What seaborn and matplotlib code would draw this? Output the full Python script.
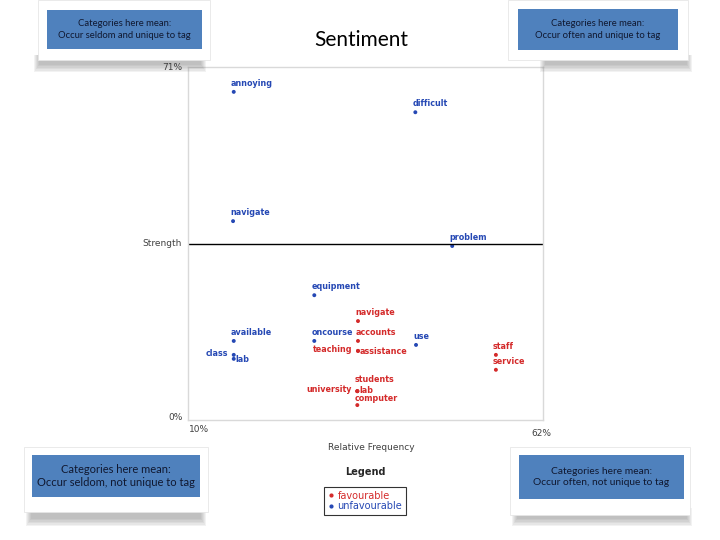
import pandas as pd
import matplotlib
matplotlib.use("Agg")
import matplotlib.pyplot as plt
import seaborn as sns
from matplotlib.patches import Rectangle
from matplotlib.lines import Line2D

# dados (frequência relativa %, força %)
palavras = ["annoying", "navigate", "difficult", "problem", "equipment", "available",
            "oncourse", "class", "lab", "use",
            "navigate", "accounts", "teaching", "assistance", "staff", "service",
            "university", "students", "lab", "computer"]
frequencia = [16.7, 16.6, 43.3, 48.7, 28.5, 16.7, 28.5, 16.7, 16.7, 43.4,
              34.9, 34.9, 34.9, 34.9, 55.1, 55.1, 34.8, 34.8, 34.8, 34.8]
forca = [66.0, 40.0, 61.9, 35.0, 25.1, 15.9, 15.9, 13.1, 12.3, 15.1,
         19.9, 15.9, 13.9, 13.9, 13.1, 10.1, 5.8, 5.8, 5.8, 3.0]
sentimento = ["unfavourable"] * 10 + ["favourable"] * 10

# posição do rótulo (padrão: acima do ponto)
pos_rotulo = {7: "left", 8: "right", 12: "left", 13: "right", 16: "left",
              17: "high", 18: "right_up", 19: "low"}

cores = {"favourable": "#D42A2A", "unfavourable": "#2548B4"}

df = pd.DataFrame({"palavra": palavras, "freq": frequencia,
                   "forca": forca, "sent": sentimento})

sns.set_style("white")
plt.rcParams["font.family"] = ["DejaVu Sans"]

fig = plt.figure(figsize=(7.2, 5.4), dpi=100)
W, H = 720, 540


def fx(px):
    return px / W


def fy(py):
    return 1 - py / H


ax = fig.add_axes([fx(188), fy(420), fx(543) - fx(188), fy(67) - fy(420)])
sns.scatterplot(data=df, x="freq", y="forca", hue="sent", palette=cores,
                s=8, edgecolor="none", legend=False, ax=ax)
ax.set_xlim(10, 62)
ax.set_ylim(0, 71)
ax.set_xticks([])
ax.set_yticks([])
ax.set_xlabel("")
ax.set_ylabel("")
for s in ax.spines.values():
    s.set_color("#D9D9D9")
    s.set_linewidth(1)
ax.axhline(35.5, color="black", lw=1)

offsets = {"above": ((-2, 3), "left", "bottom"),
           "high": ((-2, 5), "left", "bottom"),
           "low": ((-2, 1.5), "left", "bottom"),
           "left": ((-4, 1), "right", "center"),
           "right": ((1.5, -0.5), "left", "center"),
           "right_up": ((1.5, 0.5), "left", "center")}
for i, row in df.iterrows():
    off, ha, va = offsets[pos_rotulo.get(i, "above")]
    ax.annotate(row["palavra"], (row["freq"], row["forca"]), xytext=off,
                textcoords="offset points", ha=ha, va=va,
                fontsize=5.8, fontweight="bold", color=cores[row["sent"]])

# textos dos eixos
cinza = "#404040"
fig.text(fx(172), fy(67), "71%", fontsize=6.5, color=cinza, ha="center", va="center")
fig.text(fx(176), fy(417), "0%", fontsize=6.5, color=cinza, ha="center", va="center")
fig.text(fx(199), fy(429), "10%", fontsize=6.5, color=cinza, ha="center", va="center")
fig.text(fx(541), fy(433), "62%", fontsize=6.5, color=cinza, ha="center", va="center")
fig.text(fx(162), fy(244), "Strength", fontsize=6.5, color=cinza, ha="center", va="center")
fig.text(fx(371), fy(448), "Relative Frequency", fontsize=6.5, color=cinza,
         ha="center", va="center")
fig.text(fx(361), fy(40), "Sentiment", fontsize=15, color="black", ha="center",
         va="center", family="Lato")

# legenda
fig.text(fx(365), fy(472), "Legend", fontsize=7, fontweight="bold", ha="center", va="center")
handles = [Line2D([], [], marker="o", ls="none", ms=2, color=cores["favourable"]),
           Line2D([], [], marker="o", ls="none", ms=2, color=cores["unfavourable"])]
leg = fig.legend(handles, ["favourable", "unfavourable"], loc="center",
                 bbox_to_anchor=(fx(365), fy(501)), fontsize=7, frameon=True,
                 fancybox=False, edgecolor="black", handlelength=0.6,
                 handletextpad=0.4, borderpad=0.4, labelspacing=0.1,
                 labelcolor=[cores["favourable"], cores["unfavourable"]])
leg.get_frame().set_linewidth(0.8)


# caixas dos cantos
def cartao(card, azul, sombra, texto, tam):
    x0, y0, x1, y1 = sombra
    for k in range(6):
        fig.patches.append(Rectangle((fx(x0 + k), fy(y1 - k * 1.5)),
                                     fx(x1 - x0 - 2 * k), fy(y0) - fy(y1 - k * 1.5),
                                     transform=fig.transFigure, color="#707070",
                                     alpha=0.09, lw=0))
    x0, y0, x1, y1 = card
    fig.patches.append(Rectangle((fx(x0), fy(y1)), fx(x1 - x0), fy(y0) - fy(y1),
                                 transform=fig.transFigure, facecolor="white",
                                 edgecolor="#E6E6E6", lw=0.6))
    x0, y0, x1, y1 = azul
    fig.patches.append(Rectangle((fx(x0), fy(y1)), fx(x1 - x0), fy(y0) - fy(y1),
                                 transform=fig.transFigure, color="#4F81BD", lw=0))
    fig.text(fx((x0 + x1) / 2), fy((y0 + y1) / 2), texto, fontsize=tam,
             color="#101830", ha="center", va="center", family="Lato",
             linespacing=1.3)


cartao((38, 0, 210, 60), (47, 10, 202, 49), (34, 55, 206, 72),
       "Categories here mean:\nOccur seldom and unique to tag", 6.8)
cartao((508, 0, 688, 60), (518, 9, 678, 50), (540, 55, 692, 72),
       "Categories here mean:\nOccur often and unique to tag", 6.8)
cartao((24, 447, 208, 512), (32, 455, 200, 497), (26, 505, 206, 526),
       "Categories here mean:\nOccur seldom, not unique to tag", 8)
cartao((510, 447, 690, 515), (519, 455, 684, 499), (512, 508, 692, 526),
       "Categories here mean:\nOccur often, not unique to tag", 7.4)

plt.savefig("out.png", dpi=100)
plt.close()
